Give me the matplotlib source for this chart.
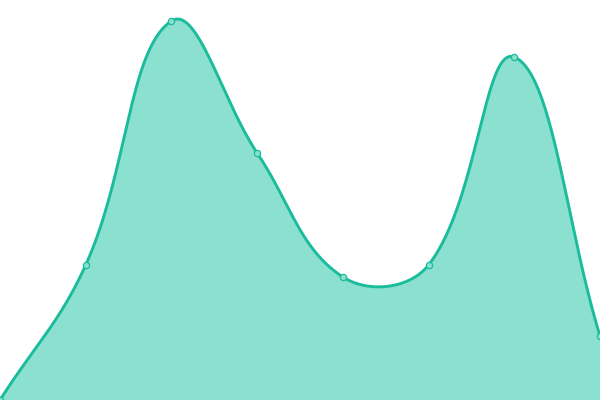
import numpy as np
import matplotlib
matplotlib.use('Agg')
from matplotlib import pyplot as plt

# values (0 = bottom, 400 = top)
idx = [0, 1, 2, 3, 4, 5, 6, 7]
values = [0, 135, 379, 247, 123, 135, 343, 64]

LINE = '#1abc9c'
FILL = '#8be0cf'
W, H = 600, 400
TENSION = 0.4


def spline(xs, ys, tension=TENSION, n=40):
    # bezier spline with tension, control points from neighbour distances
    sx = W / (len(xs) - 1)
    P = np.column_stack([np.asarray(xs, float) * sx, np.asarray(ys, float)])
    k = len(P)
    prev_c, next_c = [], []
    for i in range(k):
        p0 = P[max(i - 1, 0)]
        p1 = P[i]
        p2 = P[min(i + 1, k - 1)]
        d01 = np.linalg.norm(p1 - p0)
        d12 = np.linalg.norm(p2 - p1)
        s01 = d01 / (d01 + d12)
        s12 = d12 / (d01 + d12)
        prev_c.append(p1 - tension * s01 * (p2 - p0))
        next_c.append(p1 + tension * s12 * (p2 - p0))
    t = np.linspace(0, 1, n)[:, None]
    out = []
    for i in range(k - 1):
        a, c1, c2, b = P[i], next_c[i], prev_c[i + 1], P[i + 1]
        c1 = np.clip(c1, [0, 0], [W, H])
        c2 = np.clip(c2, [0, 0], [W, H])
        out.append((1-t)**3*a + 3*(1-t)**2*t*c1 + 3*(1-t)*t**2*c2 + t**3*b)
    out = np.vstack(out)
    return out[:, 0] / sx, out[:, 1]


fig = plt.figure(figsize=(6, 4), dpi=100)
ax = fig.add_axes([0, 0, 1, 1])
cx, cy = spline(idx, values)
ax.fill_between(cx, cy, 0, color=FILL, lw=0)
ax.plot(cx, cy, color=LINE, lw=2.1, solid_capstyle='round')
ax.plot(idx, values, 'o', ms=4.5, mfc=FILL, mec=LINE, mew=0.9, clip_on=False)
ax.set_xlim(0, 7)
ax.set_ylim(0, 400)
ax.axis('off')
fig.savefig('out.png')
